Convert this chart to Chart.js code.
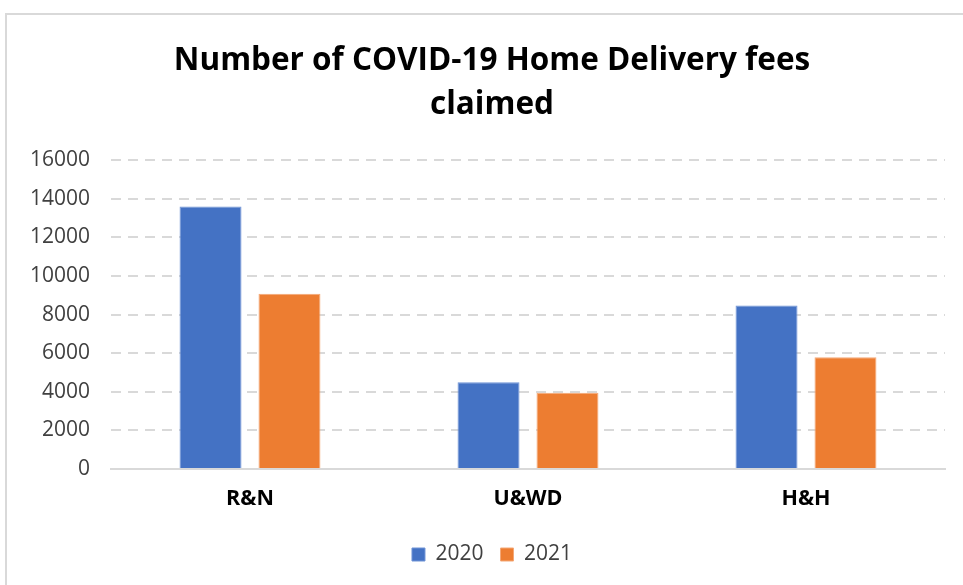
<!DOCTYPE html>
<html><head><meta charset="utf-8">
<script src="https://cdn.jsdelivr.net/npm/chart.js@4.4.1/dist/chart.umd.min.js"></script>
<style>
html,body{margin:0;padding:0;background:#fff;overflow:hidden;}
#wrap{position:absolute;left:0;top:0;width:963px;height:585px;}
#frame{position:absolute;left:5px;top:13px;width:1000px;height:700px;border:2px solid #d9d9d9;box-sizing:border-box;}
canvas{position:absolute;left:0;top:0;}
</style></head>
<body>
<div id="wrap"><div id="frame"></div><canvas id="c" width="963" height="585"></canvas></div>
<script>
const categories = ["R&N", "U&WD", "H&H"];
const series2020 = [13600, 4490, 8470];
const series2021 = [9080, 3950, 5790];
const seriesNames = ["2020", "2021"];
const titleLines = ["Number of COVID-19 Home Delivery fees", "claimed"];

const PAD_LEFT = 21;
const ctx = document.getElementById('c');
new Chart(ctx, {
  type: 'bar',
  data: {
    labels: categories,
    datasets: [
      {label: seriesNames[0], data: series2020, backgroundColor: '#4472C4', borderColor:'#6f93d6', borderWidth:1, categoryPercentage:0.568, barPercentage:0.785},
      {label: seriesNames[1], data: series2021, backgroundColor: '#ED7D31', borderColor:'#f4a877', borderWidth:1, categoryPercentage:0.568, barPercentage:0.785}
    ]
  },
  options: {
    responsive: false,
    animation: false,
    devicePixelRatio: 1,
    layout: {padding: {top: 39, right: 0, left: PAD_LEFT, bottom: 10}},
    plugins: {
      title: {
        display: true,
        text: titleLines,
        color: '#000',
        font: {family: 'Open Sans', size: 31.5, weight: 'bold', lineHeight: 1.4},
        padding: {top: 0, bottom: 33}
      },
      legend: {
        position: 'bottom',
        labels: {
          color: '#404040',
          font: {family: 'Open Sans', size: 21},
          boxWidth: 13, boxHeight: 13, padding: 17
        }
      },
      tooltip: {enabled: false}
    },
    scales: {
      x: {
        afterFit: (s) => { s.height = 58; },
        grid: {display: false, drawTicks: false},
        border: {display: true, color: '#d9d9d9', width: 2},
        ticks: {color: '#000', font: {family: 'Open Sans', size: 21.5, weight: 'bold'}, padding: 17}
      },
      y: {
        min: 0, max: 16000,
        afterFit: (s) => { s.width = 111 - PAD_LEFT; },
        grid: {color: '#d9d9d9', lineWidth: 2, drawTicks: false},
        border: {display: false, dash: [10, 7]},
        ticks: {stepSize: 2000, color: '#404040', font: {family: 'Open Sans', size: 21}, padding: 21,
                callback: (v) => String(v)}
      },
      y2: {
        position: 'right',
        min: 0, max: 1,
        afterFit: (s) => { s.width = 18; },
        grid: {display: false, drawTicks: false},
        border: {display: false},
        ticks: {display: false}
      }
    }
  }
});
</script>
</body></html>
